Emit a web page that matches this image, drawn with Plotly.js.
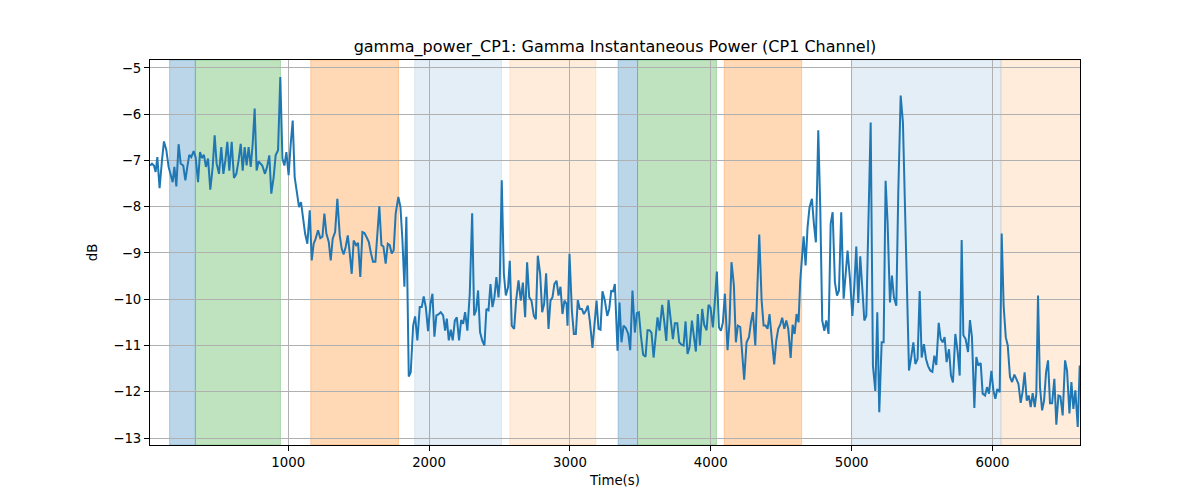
<!DOCTYPE html>
<html>
<head>
<meta charset="utf-8">
<script src="https://cdn.plot.ly/plotly-3.0.1.min.js"></script>
<style>html,body{margin:0;padding:0;background:#fff;}#chart{width:1200px;height:500px;}</style>
</head>
<body>
<div id="chart"></div>
<script>
// Time (s) of each sample
const timeSec = [
19,33,47,59,71,87,104,118,135,151,170,180,192,206,222,237,255,270,284,298,312,329,343,360,374,388,402,416,431,447,464,478,492,509,525,540,554,568,582,599,615,632,648,663,677,691,705,719,734,748,762,776,790,
816,835,850,866,880,897,911,928,944,959,973,987,1003,1018,1032,1046,1063,1077,1091,1105,1120,1136,1153,1167,1181,1195,1212,1228,1243,1257,1271,1288,1302,1316,1333,1349,1366,1380,1394,1408,1423,1437,1451,1465,1482,1496,1512,1527,1541,1555,1572,1588,1602,1619,1633,1647,1662,1676,1692,1707,1721,1735,1749,1763,1782,1797,1811,1825,1839,
1856,1870,1887,1901,1917,1934,1948,1962,1977,1993,2010,2024,2038,2052,2066,2083,2100,2114,2126,2140,2154,2168,2183,2197,2213,2228,2242,2256,2272,2289,2306,2320,2334,2348,2362,2377,2393,2407,2422,2436,2450,2464,2478,2493,2502,2516,2531,2545,2561,
2573,2587,2604,2618,2635,2651,2666,2682,2696,2711,2727,2744,2758,2772,2789,2803,2817,2831,2848,2862,2876,2890,2905,2919,2933,2947,2961,2976,2983,2997,3014,3028,3042,3056,3070,3085,3099,3113,3127,3141,3160,3175,3189,3203,3217,3231,3248,3265,3279,3293,3307,
3319,3338,3352,3366,3381,3397,3414,3428,3444,3461,3475,3489,3504,3520,3537,3551,3565,3579,3594,3608,3622,3636,3655,3669,3684,3700,3717,3731,3745,3762,3776,3792,3807,3821,3835,3849,3866,3880,3894,3908,3923,3939,3953,3970,3984,3998,4015,4029,4043,4058,4072,4086,
4100,4119,4133,4147,4164,4178,4192,4209,4223,4237,4254,4271,4285,4299,4316,4330,4344,4361,4375,4389,4403,4417,4434,4450,4465,4479,4493,4507,4522,4536,4550,4567,4581,4595,4609,4623,4635,4647,4659,4673,4687,4701,4718,4732,4746,4763,4777,4791,4806,4820,4836,4851,4865,4881,4896,4910,4926,4943,4957,
4971,4988,5005,5019,5033,5047,5061,5076,5090,5104,5118,5135,5151,5168,5182,5196,5213,5227,5241,5255,5272,5286,5300,5317,5331,5348,5364,5379,5393,5407,5421,5438,5452,5468,5483,5497,5513,5528,5542,5558,5573,5587,5601,5618,5632,5646,5660,5674,5691,5705,5719,5736,5753,5767,
5781,5793,5809,5826,5840,5854,5871,5885,5899,5916,5930,5947,5961,5975,5992,6006,6020,6034,6051,6065,6079,6094,6108,6124,6139,6155,6169,6184,6200,6214,6228,6243,6257,6271,6285,6300,6311,6323,6337,6352,6366,6380,6394,6408,6423,6439,6453,6468,6482,6498,6515,6529,6546,6560,6574,6588,6605,6619
];
// Gamma instantaneous power (dB)
const powerDb = [
-7.11,-7.07,-7.11,-7.25,-6.93,-7.6,-7.0,-6.59,-6.78,-7.14,-7.36,-7.47,-7.14,-7.56,-6.65,-7.07,-7.11,-7.43,-7.14,-6.88,-6.93,-6.8,-6.93,-7.47,-6.82,-6.95,-6.88,-7.14,-6.96,-7.63,-7.14,-6.46,-7.07,-7.29,-6.71,-7.29,-7.0,-6.6,-7.22,-6.6,-7.38,-7.29,-7.0,-6.64,-7.22,-6.71,-7.11,-6.71,-7.14,-6.64,-5.88,-7.22,-7.02,
-7.11,-7.29,-7.14,-6.89,-7.72,-7.36,-6.89,-6.78,-5.2,-6.96,-7.11,-6.82,-7.32,-6.64,-6.14,-7.36,-7.72,-8.01,-7.9,-8.22,-8.58,-8.8,-8.08,-9.16,-8.8,-8.69,-8.51,-8.68,-8.65,-8.15,-8.58,-8.76,-9.16,-8.69,-8.55,-7.83,-8.62,-8.91,-9.03,-8.87,-8.62,-9.01,-9.45,-8.73,-8.83,-8.78,-9.52,-8.55,-8.57,-8.65,-8.76,-9.01,-9.19,-9.19,-8.58,-7.99,-8.83,-8.86,-9.23,-8.8,-8.83,-9.01,-8.94,-8.15,-7.79,-8.01,-8.73,-9.73,-8.22,
-11.67,-11.58,-10.57,-10.37,-10.89,-10.17,-10.17,-9.94,-10.17,-10.69,-10.1,-9.88,-10.81,-10.35,-10.33,-10.28,-10.35,-10.68,-10.42,-10.89,-10.66,-10.89,-10.46,-10.39,-10.89,-10.45,-10.53,-10.28,-10.68,-9.88,-8.14,-10.35,-10.24,-9.81,-10.71,-10.89,-11.0,-10.21,-10.24,-9.67,-10.17,-9.96,-9.52,-9.96,-9.6,-7.43,-9.45,-9.92,-9.74,
-9.17,-10.57,-10.64,-10.03,-9.59,-10.03,-9.64,-10.39,-9.2,-9.96,-10.03,-10.36,-10.43,-9.06,-9.46,-10.28,-10.1,-9.44,-10.64,-10.03,-9.96,-9.67,-9.6,-9.92,-9.73,-10.32,-10.03,-10.1,-10.57,-9.02,-10.25,-10.75,-10.75,-10.02,-10.21,-10.21,-10.32,-10.25,-10.14,-10.46,-11.05,-10.43,-10.03,-10.64,-10.66,-9.83,-10.03,-10.36,-10.21,-9.82,-9.83,
-9.67,-11.11,-10.07,-10.93,-10.57,-10.62,-10.75,-11.1,-9.81,-10.72,-10.3,-10.28,-10.79,-11.2,-11.24,-10.67,-10.67,-10.72,-11.26,-10.82,-10.39,-10.68,-10.12,-10.46,-10.9,-10.02,-10.46,-10.86,-10.52,-10.52,-10.93,-10.98,-11.0,-10.48,-11.18,-11.04,-10.46,-10.86,-11.13,-10.32,-11.0,-10.21,-10.55,-10.67,-10.12,-10.18,-10.61,-10.03,-9.4,-10.61,-10.68,-10.5,
-9.88,-11.1,-10.5,-9.2,-9.7,-10.93,-10.57,-10.6,-11.11,-11.74,-10.93,-10.82,-10.5,-10.28,-11.0,-9.6,-8.6,-10.03,-10.57,-10.57,-10.64,-10.32,-10.97,-11.41,-10.89,-10.64,-10.55,-10.4,-10.64,-10.46,-10.64,-11.27,-10.55,-10.75,-10.32,-10.5,-9.6,-9.02,-8.64,-9.27,-8.44,-8.01,-7.83,-8.37,-8.77,-6.35,-8.01,-10.46,-10.68,-10.46,-10.75,-8.37,-8.12,-9.63,-9.92,-9.81,-8.12,-9.99,-9.38,
-8.95,-9.56,-10.36,-9.71,-8.86,-10.08,-9.07,-9.78,-10.46,-10.36,-8.12,-6.18,-11.44,-11.98,-10.28,-12.44,-10.93,-10.93,-7.44,-8.34,-10.07,-9.49,-9.96,-10.14,-7.69,-5.6,-6.18,-8.2,-10.07,-11.54,-11.29,-10.93,-11.4,-11.29,-9.82,-11.26,-10.97,-11.29,-11.44,-11.54,-11.57,-11.22,-11.42,-10.51,-10.86,-10.93,-10.82,-11.36,-11.08,-11.65,-11.8,-10.75,-11.15,-11.65,
-8.72,-10.78,-10.86,-11.14,-10.45,-10.82,-12.35,-11.25,-11.43,-11.38,-12.04,-12.08,-11.9,-12.04,-11.55,-11.97,-12.15,-11.94,-12.01,-8.58,-10.14,-10.82,-11.0,-11.68,-11.79,-11.63,-11.72,-11.83,-12.24,-11.99,-11.58,-12.19,-12.08,-12.33,-12.03,-12.33,-12.04,-9.92,-11.9,-12.4,-12.19,-11.58,-11.32,-12.25,-12.25,-11.72,-12.71,-12.08,-12.1,-12.51,-11.32,-11.54,-12.47,-11.79,-12.37,-11.97,-12.76,-11.43
];
// Shaded phases (start, end in seconds) and their kind
const bandStart = [158, 341, 1160, 1898, 2573, 3342, 3480, 4095, 5000, 6060];
const bandEnd   = [341, 945, 1783, 2514, 3184, 3480, 4040, 4645, 6060, 6625];
const bandKind  = ['blue', 'green', 'orange', 'lightblue', 'lightorange', 'blue', 'green', 'orange', 'lightblue', 'lightorange'];

const kindColor = {
  blue: 'rgba(31,119,180,0.30)',
  green: 'rgba(44,160,44,0.30)',
  orange: 'rgba(255,127,14,0.30)',
  lightblue: 'rgba(31,119,180,0.12)',
  lightorange: 'rgba(255,127,14,0.15)'
};

const shapes = bandStart.map((s, i) => ({
  type: 'rect', xref: 'x', yref: 'paper', x0: s, x1: bandEnd[i], y0: 0, y1: 1,
  fillcolor: kindColor[bandKind[i]], line: {width: 1, color: kindColor[bandKind[i]]}, layer: 'below'
}));

const font = {family: 'DejaVu Sans, sans-serif', size: 13.3, color: '#000'};

const trace = {
  x: timeSec, y: powerDb, type: 'scatter', mode: 'lines',
  line: {color: '#1f77b4', width: 2}, hoverinfo: 'skip'
};

const axisCommon = {
  showgrid: true, gridcolor: '#b0b0b0', gridwidth: 1,
  showline: true, linecolor: '#000', linewidth: 1, mirror: true,
  ticks: 'outside', ticklen: 5, tickwidth: 1, tickcolor: '#000',
  tickfont: font, zeroline: false
};

const layout = {
  width: 1200, height: 500,
  margin: {l: 150, r: 120, t: 60, b: 55},
  paper_bgcolor: '#fff', plot_bgcolor: '#fff',
  font: font,
  showlegend: false,
  title: {text: 'gamma_power_CP1: Gamma Instantaneous Power (CP1 Channel)', font: {family: 'DejaVu Sans, sans-serif', size: 16, color: '#000'}, x: 0.5, xref: 'paper', y: 0.908, yref: 'container', yanchor: 'middle'},
  xaxis: Object.assign({}, axisCommon, {range: [19, 6621], dtick: 1000, tick0: 0, title: {text: 'Time(s)', font: font, standoff: 6}}),
  yaxis: Object.assign({}, axisCommon, {range: [-13.15, -4.83], dtick: 1, tick0: 0, title: {text: 'dB', font: font, standoff: 12}}),
  shapes: shapes
};

Plotly.newPlot('chart', [trace], layout, {displayModeBar: false, staticPlot: true});
</script>
</body>
</html>
